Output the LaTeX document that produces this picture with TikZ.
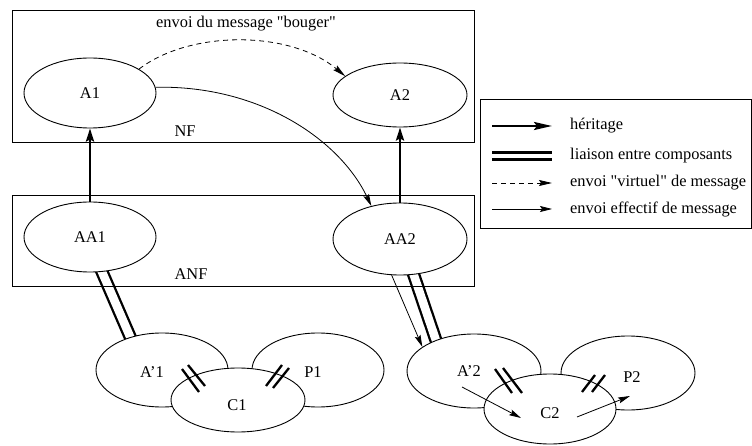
\documentclass[tikz,border=0pt]{standalone}
\usepackage{fontspec}
\setmainfont{Liberation Serif}
\usetikzlibrary{arrows.meta,shapes.geometric}
\pgfdeclarelayer{background}
\pgfsetlayers{background,main}
\newcommand{\dq}{\textquotedbl}
\begin{document}
\begin{tikzpicture}[x=1pt,y=-1pt,
  every node/.style={font=\fontsize{16.4}{18}\selectfont, inner sep=0pt},
  comp/.style={draw, ellipse, line width=0.9pt, fill=white, minimum width=#1},
  comp/.default=132pt,
  frame/.style={draw, line width=0.9pt},
  heritage/.style={line width=2.4pt, -{Stealth[length=13pt,width=8pt,inset=2pt]}},
  liaison/.style={double, line width=2.3pt, double distance=8.5pt},
  legliaison/.style={double, line width=2.2pt, double distance=4.8pt},
  virtuel/.style={line width=0.8pt, dash pattern=on 5pt off 4pt, -{Stealth[length=13pt,width=6pt,inset=2pt]}},
  effectif/.style={line width=0.8pt, -{Stealth[length=12pt,width=6pt,inset=2pt]}},
  tick/.style={line width=2.3pt}
]
\useasboundingbox (0,0) rectangle (752,446);

% frames of the two levels
\draw[frame] (12,10) rectangle (474,142);
\draw[frame] (12,195) rectangle (474,286);
\node (nf) at (185,131) {NF};
\node (anf) at (191,274) {ANF};
\node (bouger) at (246,24) {envoi du message \dq bouger\dq};

% upper level
\node[comp, minimum height=70pt] (A1) at (90,93) {A1};
\node[comp=134pt, minimum height=64pt] (A2) at (400,95) {A2};
\node[comp, minimum height=70pt] (AA1) at (90,237) {AA1};
\node[comp=134pt, minimum height=72pt] (AA2) at (400,239) {AA2};

% first group of components
\node[comp, minimum height=74pt] (Ap1) at (162,370) {};
\node[comp, minimum height=74pt] (P1) at (318,370) {};
\node[comp=134pt, minimum height=64pt] (C1) at (238,400) {};
\node (lAp1) at (152,372) {A’1};
\node (lP1) at (313,372) {P1};
\node (lC1) at (237,405) {C1};

% second group of components
\node[comp=134pt, minimum height=74pt] (Ap2) at (474,371) {};
\node[comp=134pt, minimum height=74pt] (P2) at (628,373) {};
\node[comp, minimum height=70pt] (C2) at (550,409) {};
\node (lAp2) at (469,371) {A’2};
\node (lP2) at (632,377) {P2};
\node (lC2) at (550,413) {C2};

% inheritance
\draw[heritage] (AA1.north) -- (A1.south);
\draw[heritage] (AA2.north) -- (A2.south);

% links between components (ends hidden under the filled ellipses)
\begin{pgfonlayer}{background}
\draw[liaison, shorten <=-8pt, shorten >=-8pt] (AA1.-71) -- (Ap1.134);
\draw[liaison, shorten <=-8pt, shorten >=-8pt] (AA2.-69.6) -- (Ap2.141);
\end{pgfonlayer}

% link marks
\draw[tick] (182,369) -- (199,392);
\draw[tick] (188,365) -- (205,386);
\draw[tick] (266,386) -- (282,365);
\draw[tick] (273,388) -- (289,368);
\draw[tick] (495,369) -- (512,393);
\draw[tick] (503,368) -- (522,393);
\draw[tick] (582,392) -- (595,375);
\draw[tick] (592,392) -- (605,375);

% messages
\draw[virtuel] (A1.26) .. controls (190,30) and (290,30) .. (A2.161);
\draw[effectif] (A1.5) .. controls (260,85) and (340,140) .. (AA2.131);
\draw[effectif] (AA2.-103) -- (Ap2.155.6);
\coordinate (m1s) at (462,387);
\coordinate (m1e) at (521,418);
\coordinate (m2s) at (577,417);
\coordinate (m2e) at (630,396);
\draw[effectif] (m1s) -- (m1e);
\draw[effectif] (m2s) -- (m2e);

% legend
\draw[frame] (480,99) rectangle (751,228);
\node[anchor=west] (t1) at (570,126) {héritage};
\node[anchor=west] (t2) at (570,156) {liaison entre composants};
\node[anchor=west] (t3) at (570,183) {envoi \dq virtuel\dq{} de message};
\node[anchor=west] (t4) at (570,209) {envoi effectif de message};
\coordinate (k1a) at (492,126); \coordinate (k1b) at (552,126);
\coordinate (k2a) at (492,156); \coordinate (k2b) at (552,156);
\coordinate (k3a) at (492,183); \coordinate (k3b) at (552,183);
\coordinate (k4a) at (492,209); \coordinate (k4b) at (552,209);
\draw[line width=2.4pt, -{Stealth[length=18pt,width=8pt,inset=3pt]}] (k1a) -- (k1b);
\draw[legliaison] (k2a) -- (k2b);
\draw[virtuel] (k3a) -- (k3b);
\draw[effectif] (k4a) -- (k4b);
\end{tikzpicture}
\end{document}
